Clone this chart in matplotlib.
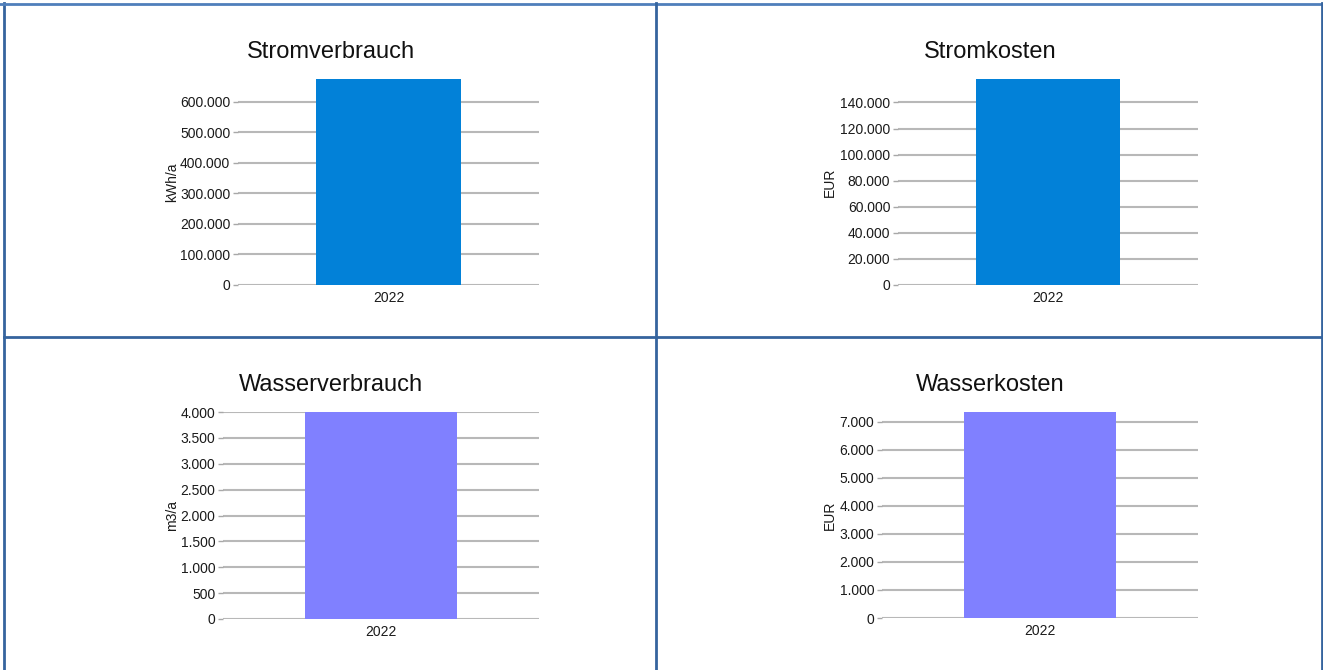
import matplotlib
matplotlib.use("Agg")
import matplotlib.pyplot as plt
from matplotlib.lines import Line2D
from matplotlib.ticker import MultipleLocator, FuncFormatter

plt.rcParams['font.family'] = ['Liberation Sans', 'DejaVu Sans']

# yearly figures
categories = ["2022"]
strom_verbrauch = [675000]   # kWh/a
strom_kosten = [158000]      # EUR
wasser_verbrauch = [4000]    # m3/a
wasser_kosten = [7350]       # EUR

W, H = 1323, 670
DPI = 100
BORDER = "#35649e"
GRID = "#b8b8b8"


def px_box(x0, y0, x1, y1):
    # pixel box (top-left origin) -> figure fraction rect
    return [x0 / W, 1 - y1 / H, (x1 - x0) / W, (y1 - y0) / H]


def thousands(v, pos):
    return f"{v:,.0f}".replace(",", ".")


def draw_chart(fig, box, title, title_xy, values, color, ylabel, step, ylabel_x):
    ax = fig.add_axes(px_box(*box))
    ax.bar(categories, values, width=0.48, color=color, zorder=2)
    ax.set_xlim(-0.5, 0.5)
    ax.set_ylim(0, max(values))
    ax.yaxis.set_major_locator(MultipleLocator(step))
    ax.yaxis.set_major_formatter(FuncFormatter(thousands))
    ax.grid(axis='y', color=GRID, linewidth=1.5, zorder=0)
    ax.set_axisbelow(True)
    for s in ax.spines.values():
        s.set_visible(False)
    ax.tick_params(axis='y', length=3.5, width=1, color="#a8a8a8", pad=2,
                   labelsize=10, labelcolor="#1a1a1a")
    ax.tick_params(axis='x', length=0, pad=4, labelsize=10, labelcolor="#1a1a1a")
    ax.set_ylabel(ylabel, fontsize=10, color="#1a1a1a")
    ax.yaxis.set_label_coords((ylabel_x - box[0]) / (box[2] - box[0]), 0.5)
    fig.text(title_xy[0] / W, 1 - title_xy[1] / H, title, fontsize=17,
             ha='center', va='center', color="#111111")
    return ax


fig = plt.figure(figsize=(W / DPI, H / DPI), dpi=DPI)

draw_chart(fig, (238, 79, 539, 285), "Stromverbrauch", (331, 52),
           strom_verbrauch, "#0281d8", "kWh/a", 100000, 179)
draw_chart(fig, (898, 79, 1198, 285), "Stromkosten", (990, 52),
           strom_kosten, "#0281d8", "EUR", 20000, 837)
draw_chart(fig, (223, 412, 539, 619), "Wasserverbrauch", (331, 385),
           wasser_verbrauch, "#8080ff", "m3/a", 500, 179)
draw_chart(fig, (882, 412, 1198, 618), "Wasserkosten", (990, 385),
           wasser_kosten, "#8080ff", "EUR", 1000, 837)

# table frame around the four charts
lw = 2.0
frame = [
    ((4, 4), (3, H), BORDER),
    ((0, W - 1), (3.5, 3.5), "#4f7fbb"),
    ((1321.5, 1321.5), (3, H), BORDER),
    ((656, 656), (3, H), BORDER),
    ((4, W - 1), (337.5, 337.5), BORDER),
]
for xs, ys, c in frame:
    fig.add_artist(Line2D([x / W for x in xs], [1 - y / H for y in ys],
                          color=c, linewidth=lw, transform=fig.transFigure))

fig.savefig("out.png", dpi=DPI)
